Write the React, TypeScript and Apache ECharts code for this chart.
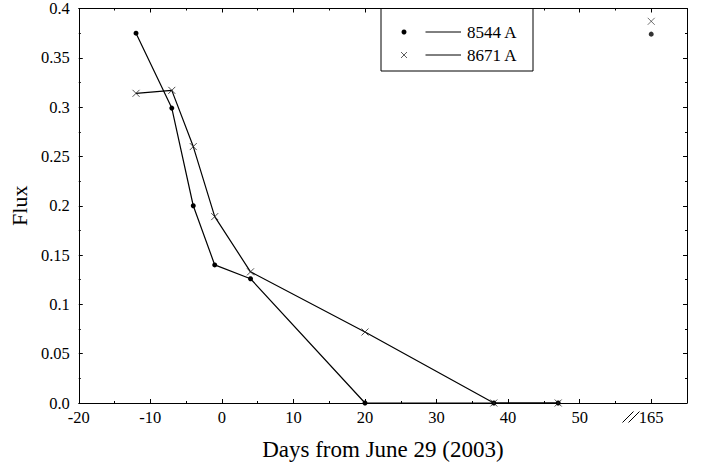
import React, { useEffect, useRef } from "react";
import * as echarts from "echarts";

// Data
const days = [-12, -7, -4, -1, 4, 20, 38, 47];
const flux8544 = [0.375, 0.299, 0.2, 0.14, 0.126, 0.0, 0.0, 0.0];
const flux8671 = [0.314, 0.317, 0.26, 0.189, 0.133, 0.072, 0.0, 0.0];
const lateDay = 165;
const lateFlux8544 = 0.374;
const lateFlux8671 = 0.387;
const seriesNames = ["8544 A", "8671 A"];
const xTickValues = [-20, -10, 0, 10, 20, 30, 40, 50];
// broken axis: day 165 is drawn at this axis position
const lateDayAxisPos = 60;

const FONT = "Liberation Serif";
const CROSS = "path://M0,0L10,10M0,10L10,0";

export default function App() {
  const ref = useRef<HTMLDivElement>(null);
  useEffect(() => {
    if (!ref.current) return;
    document.body.style.margin = "0";
    const chart = echarts.init(ref.current, undefined, { renderer: "svg" });
    const black = "#000";
    const axisCommon = {
      axisLine: { show: true, onZero: false, lineStyle: { color: black, width: 1 } },
      axisTick: { show: true, inside: true, length: 4, lineStyle: { color: black } },
      minorTick: { show: true, splitNumber: 2, length: 2, lineStyle: { color: black } },
      splitLine: { show: false },
    };
    const xFmt = (v: number) => {
      if (v === lateDayAxisPos) return String(lateDay);
      return xTickValues.indexOf(v) >= 0 ? String(v) : "";
    };
    const yFmt = (v: number) => (v === 0 ? "0.0" : String(+v.toFixed(2)));
    const crossStyle = { color: "transparent", borderColor: "#222", borderWidth: 0.8 };
    const dotStyle = { color: black };
    const legendX = 381;
    const legendY = 8.5;
    const row1 = 32;
    const row2 = 55;
    const legendFont = `17px "${FONT}"`;
    chart.setOption({
      animation: false,
      grid: { left: 74, right: 16, top: 8.5, bottom: 50.3 },
      xAxis: [
        {
          type: "value",
          min: -20,
          max: 65,
          interval: 10,
          position: "bottom",
          ...axisCommon,
          axisLabel: {
            formatter: xFmt,
            fontFamily: FONT,
            fontSize: 16.5,
            color: black,
            margin: 6,
            showMaxLabel: false,
          },
          name: "Days from June 29 (2003)",
          nameLocation: "middle",
          nameGap: 35,
          nameTextStyle: { fontFamily: FONT, fontSize: 23, color: black },
        },
        {
          type: "value",
          min: -20,
          max: 65,
          interval: 10,
          position: "top",
          ...axisCommon,
          axisLabel: { show: false },
        },
      ],
      yAxis: [
        {
          type: "value",
          min: 0,
          max: 0.4,
          interval: 0.05,
          position: "left",
          ...axisCommon,
          axisLabel: {
            formatter: yFmt,
            fontFamily: FONT,
            fontSize: 16.5,
            color: black,
            margin: 9,
          },
          name: "Flux",
          nameLocation: "middle",
          nameGap: 46,
          nameTextStyle: { fontFamily: FONT, fontSize: 22, color: black },
        },
        {
          type: "value",
          min: 0,
          max: 0.4,
          interval: 0.05,
          position: "right",
          ...axisCommon,
          axisLabel: { show: false },
        },
      ],
      series: [
        {
          name: seriesNames[0],
          type: "line",
          data: days.map((d, i) => [d, flux8544[i]]),
          symbol: "circle",
          symbolSize: 5,
          itemStyle: dotStyle,
          lineStyle: { color: black, width: 1.2 },
          clip: false,
          emphasis: { disabled: true },
          z: 3,
        },
        {
          name: seriesNames[1],
          type: "line",
          data: days.map((d, i) => [d, flux8671[i]]),
          symbol: CROSS,
          symbolSize: 7,
          symbolKeepAspect: true,
          itemStyle: crossStyle,
          lineStyle: { color: black, width: 1.2 },
          clip: false,
          emphasis: { disabled: true },
          z: 3,
        },
        {
          name: seriesNames[0] + " late",
          type: "scatter",
          data: [[lateDayAxisPos, lateFlux8544]],
          symbol: "circle",
          symbolSize: 5,
          itemStyle: dotStyle,
          emphasis: { disabled: true },
        },
        {
          name: seriesNames[1] + " late",
          type: "scatter",
          data: [[lateDayAxisPos, lateFlux8671]],
          symbol: CROSS,
          symbolSize: 7,
          symbolKeepAspect: true,
          itemStyle: crossStyle,
          emphasis: { disabled: true },
        },
      ],
      graphic: [
        // legend box
        {
          type: "rect",
          shape: { x: legendX, y: legendY, width: 152, height: 62.5 },
          style: { fill: "#fff", stroke: black, lineWidth: 1 },
          z: 10,
        },
        {
          type: "circle",
          shape: { cx: 404, cy: row1, r: 2.5 },
          style: { fill: black },
          z: 11,
        },
        {
          type: "line",
          shape: { x1: 425.5, y1: row1, x2: 461, y2: row1 },
          style: { stroke: black, lineWidth: 1 },
          z: 11,
        },
        {
          type: "text",
          x: 467,
          y: row1,
          style: {
            text: seriesNames[0],
            font: legendFont,
            fill: black,
            verticalAlign: "middle",
            align: "left",
          },
          z: 11,
        },
        {
          type: "line",
          shape: { x1: 401, y1: row2 - 3, x2: 407, y2: row2 + 3 },
          style: { stroke: "#333", lineWidth: 0.8 },
          z: 11,
        },
        {
          type: "line",
          shape: { x1: 401, y1: row2 + 3, x2: 407, y2: row2 - 3 },
          style: { stroke: "#333", lineWidth: 0.8 },
          z: 11,
        },
        {
          type: "line",
          shape: { x1: 425.5, y1: row2, x2: 461, y2: row2 },
          style: { stroke: black, lineWidth: 1 },
          z: 11,
        },
        {
          type: "text",
          x: 467,
          y: row2,
          style: {
            text: seriesNames[1],
            font: legendFont,
            fill: black,
            verticalAlign: "middle",
            align: "left",
          },
          z: 11,
        },
        // axis break mark
        {
          type: "line",
          shape: { x1: 622.5, y1: 422.5, x2: 633.5, y2: 411.5 },
          style: { stroke: black, lineWidth: 1 },
          z: 11,
        },
        {
          type: "line",
          shape: { x1: 628.5, y1: 422.5, x2: 639.5, y2: 411.5 },
          style: { stroke: black, lineWidth: 1 },
          z: 11,
        },
      ],
    });
    return () => chart.dispose();
  }, []);
  return <div ref={ref} style={{ width: 703, height: 466 }} />;
}
